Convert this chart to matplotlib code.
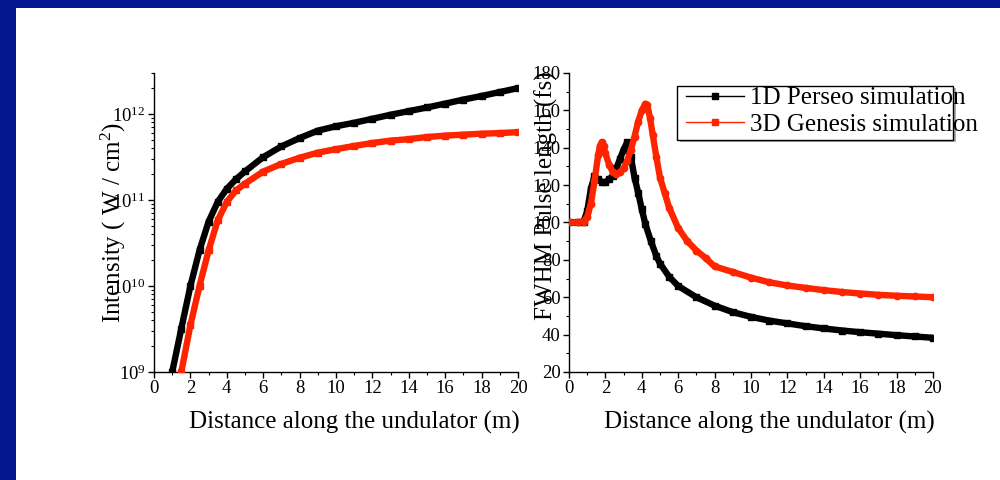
import matplotlib
matplotlib.use("Agg")
import matplotlib.pyplot as plt
from matplotlib.patches import Rectangle
from matplotlib.lines import Line2D
from matplotlib.ticker import MultipleLocator, LogLocator, LogFormatterMathtext, NullFormatter

plt.rcParams['font.family'] = ['Liberation Serif', 'DejaVu Serif']
plt.rcParams['mathtext.fontset'] = 'custom'
plt.rcParams['mathtext.rm'] = 'Liberation Serif'
plt.rcParams['mathtext.it'] = 'Liberation Serif:italic'

# ---------------- data ----------------
# Left panel: intensity (W/cm^2) vs distance (m)
x_int_1d = [1.0, 1.5, 2.0, 2.5, 3.0, 3.5, 4.0, 4.5, 5.0, 6, 7, 8, 9, 10,
            11, 12, 13, 14, 15, 16, 17, 18, 19, 20]
int_1d = [1.0e9, 3.2e9, 1.0e10, 2.6e10, 5.6e10, 9.5e10, 1.35e11, 1.74e11,
          2.15e11, 3.15e11, 4.2e11, 5.25e11, 6.4e11, 7.2e11, 7.9e11, 8.8e11,
          9.8e11, 1.08e12, 1.19e12, 1.32e12, 1.47e12, 1.62e12, 1.8e12, 2.0e12]

x_int_3d = [1.5, 2.0, 2.5, 3.0, 3.5, 4.0, 4.5, 5.0, 6, 7, 8, 9, 10, 11, 12,
            13, 14, 15, 16, 17, 18, 19, 20]
int_3d = [1.0e9, 3.5e9, 1.0e10, 2.6e10, 5.8e10, 9.5e10, 1.29e11, 1.55e11,
          2.14e11, 2.63e11, 3.1e11, 3.55e11, 3.9e11, 4.25e11, 4.6e11, 4.9e11,
          5.1e11, 5.4e11, 5.6e11, 5.75e11, 5.9e11, 6.0e11, 6.15e11]

# Right panel: FWHM pulse length (fs) vs distance (m)
x_fw_1d = [0, 0.5, 0.8, 1.0, 1.2, 1.4, 1.6, 1.8, 2.0, 2.2, 2.4, 2.6, 2.8,
           3.0, 3.2, 3.4, 3.6, 3.8, 4.0, 4.2, 4.5, 4.8, 5, 5.5, 6, 7, 8, 9,
           10, 11, 12, 13, 14, 15, 16, 17, 18, 19, 20]
fw_1d = [100, 100, 100.5, 106, 118, 125, 123, 121.5, 121.5, 123, 125, 129,
         134, 139, 143, 135, 124, 116, 107, 99, 90, 82, 78, 71, 66, 60, 55.5,
         52, 49.5, 47.5, 46, 44.5, 43.3, 42.2, 41.3, 40.5, 39.7, 39, 38.3]

x_fw_3d = [0, 0.5, 0.8, 1.0, 1.2, 1.4, 1.6, 1.7, 1.8, 1.9, 2.0, 2.2, 2.4,
           2.6, 2.8, 3.0, 3.2, 3.4, 3.6, 3.8, 4.0, 4.2, 4.3, 4.45, 4.6, 4.8,
           5.0, 5.25, 5.5, 6.0, 6.5, 7, 7.5, 8, 9, 10, 11, 12, 13, 14, 15, 16,
           17, 18, 19, 20]
fw_3d = [100, 100, 100.5, 103, 110, 122, 136, 141, 143, 141, 137, 131, 127,
         126, 127, 129, 133, 139, 146, 154, 160, 163.5, 163, 156, 147, 135,
         124, 116, 108, 97, 90, 85, 81, 76.5, 73.5, 70.5, 68, 66.3, 65, 63.8,
         62.8, 62, 61.3, 60.8, 60.4, 60]

labels = ["1D Perseo simulation", "3D Genesis simulation"]
xlabel = "Distance along the undulator (m)"
ylabel_left = "Intensity ( W / cm$^{2}$)"
ylabel_right = "FWHM Pulse length (fs)"

BLACK = "#000000"
RED = "#FF2400"
NAVY = "#03158F"

# ---------------- figure ----------------
fig = plt.figure(figsize=(10, 4.8), dpi=100)
fig.patch.set_facecolor("white")
fig.patches.append(Rectangle((0, 0), 16 / 1000, 1, transform=fig.transFigure,
                             facecolor=NAVY, edgecolor="none", zorder=-10))
fig.patches.append(Rectangle((0, 1 - 8 / 480), 1, 8 / 480, transform=fig.transFigure,
                             facecolor=NAVY, edgecolor="none", zorder=-10))

ax1 = fig.add_axes([0.154, 0.225, 0.364, 0.623])
ax2 = fig.add_axes([0.569, 0.225, 0.364, 0.623])

LW = 4.6
MS = 4.0
# left
ax1.plot(x_int_1d, int_1d, color=BLACK, lw=LW, marker="s", ms=MS, zorder=3,
         solid_capstyle="butt")
ax1.plot(x_int_3d, int_3d, color=RED, lw=LW, marker="s", ms=MS, zorder=4,
         solid_capstyle="butt")
ax1.set_yscale("log")
ax1.set_xlim(0, 20)
ax1.set_ylim(1e9, 3e12)
ax1.yaxis.set_major_locator(LogLocator(base=10, numticks=10))
ax1.yaxis.set_major_formatter(LogFormatterMathtext())
ax1.yaxis.set_minor_locator(LogLocator(base=10, subs=range(2, 10), numticks=20))
ax1.yaxis.set_minor_formatter(NullFormatter())

# right
ax2.plot(x_fw_1d, fw_1d, color=BLACK, lw=LW, marker="s", ms=MS, zorder=3,
         solid_capstyle="butt")
ax2.plot(x_fw_3d, fw_3d, color=RED, lw=LW, marker="o", ms=4.6, zorder=4,
         solid_capstyle="butt")
ax2.set_xlim(0, 20)
ax2.set_ylim(20, 180)
ax2.yaxis.set_major_locator(MultipleLocator(20))
ax2.yaxis.set_minor_locator(MultipleLocator(10))

for ax in (ax1, ax2):
    ax.set_facecolor("none")
    for s in ("top", "right"):
        ax.spines[s].set_visible(False)
    for s in ("left", "bottom"):
        ax.spines[s].set_linewidth(1.0)
    ax.xaxis.set_major_locator(MultipleLocator(2))
    ax.xaxis.set_minor_locator(MultipleLocator(1))
    ax.tick_params(which="major", direction="out", length=4, width=1,
                   labelsize=13.5, pad=2)
    ax.tick_params(which="minor", direction="out", length=2.2, width=0.8)
    ax.set_xlabel(xlabel, fontsize=18)
    ax.xaxis.set_label_coords(0.55, -0.13)

ax1.set_ylabel(ylabel_left, fontsize=18)
ax1.yaxis.set_label_coords(-0.072, 0.5)
ax2.set_ylabel(ylabel_right, fontsize=18)
ax2.yaxis.set_label_coords(-0.030, 0.59)

# legend
handles = [Line2D([], [], color=BLACK, lw=1, marker="s", ms=4),
           Line2D([], [], color=RED, lw=1, marker="s", ms=4)]
leg = fig.legend(handles, labels, loc="upper left",
                 bbox_to_anchor=(0.686, 1 - 87 / 480), frameon=False,
                 fontsize=18, handlelength=2.3, handletextpad=0.25,
                 labelspacing=0.15, borderpad=0.0, borderaxespad=0.0)
leg.set_zorder(10)
fig.patches.append(Rectangle((677 / 1000 + 0.003, 1 - 142 / 480), 276 / 1000, 54 / 480,
                             transform=fig.transFigure, facecolor="#aaaaaa",
                             edgecolor="none", zorder=5))
fig.patches.append(Rectangle((677 / 1000, 1 - 140 / 480), 276 / 1000, 54 / 480,
                             transform=fig.transFigure, facecolor="white",
                             edgecolor="black", lw=1.0, zorder=6))

fig.savefig("out.png", dpi=100)
